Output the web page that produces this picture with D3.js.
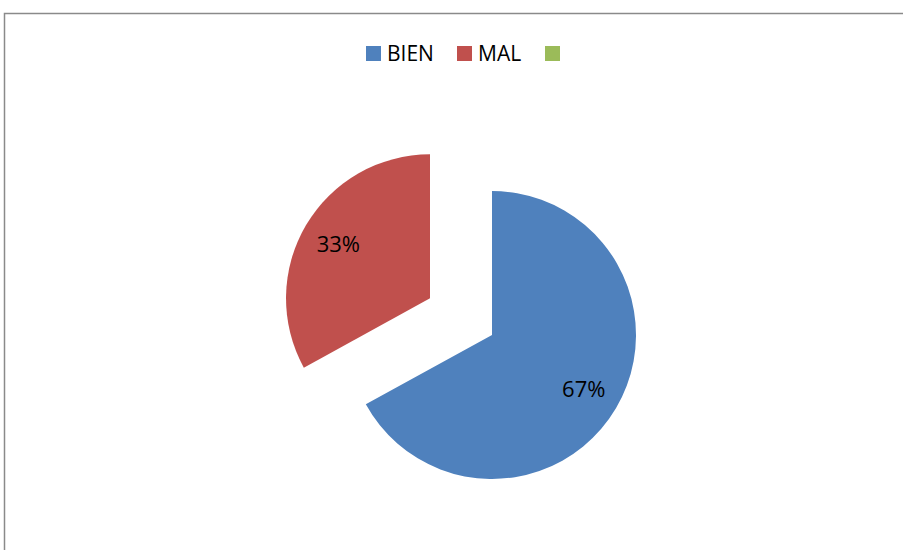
<!DOCTYPE html>
<head>
  <meta charset="utf-8">
  <style>
    body { margin: 0; background: #fff; }
    svg text { font-family: 'Open Sans', 'Liberation Sans', sans-serif; fill: #000; }
  </style>
  <script src="https://cdn.jsdelivr.net/npm/d3@7"></script>
</head>
<body>
<div id=chart></div>
<script>
// data
const categories = ['BIEN', 'MAL', '']
const values = [67, 33, 0]
const colors = ['#4f81bd', '#c0504d', '#9bbb59']
const exploded = [false, true, false]

const width = 903, height = 550
const svg = d3.select('#chart').append('svg')
  .attr('width', width).attr('height', height)
  .attr('viewBox', [0, 0, width, height])

// chart frame (extends past right/bottom edge)
svg.append('rect')
  .attr('x', 4.5).attr('y', 13.5)
  .attr('width', width + 10).attr('height', height + 10)
  .attr('fill', 'none').attr('stroke', '#8a8a8a').attr('stroke-width', 1.5)

// legend
const legend = svg.append('g').attr('transform', 'translate(366,46)')
const legend_x = [0, 91, 179]
legend.selectAll('g').data(categories).join('g')
  .attr('transform', (d, i) => `translate(${legend_x[i]},0)`)
  .call(g => g.append('rect').attr('width', 15).attr('height', 15).attr('fill', (d, i) => colors[i]))
  .call(g => g.append('text').attr('x', 21).attr('y', 15).attr('font-size', 21).text(d => d))

// pie
const cx = 492, cy = 335, r = 144, explode = 72
const pie = d3.pie().sort(null).value(d => d.value)
const arcs = pie(categories.map((c, i) => ({ name: c, value: values[i], color: colors[i], exploded: exploded[i] })))
const arc = d3.arc().innerRadius(0).outerRadius(r)
const label_arc = d3.arc().innerRadius(r * 0.74).outerRadius(r * 0.74)
const total = d3.sum(values)

const offset = d => {
  if (!d.data.exploded) return [0, 0]
  const a = (d.startAngle + d.endAngle) / 2
  return [Math.sin(a) * explode, -Math.cos(a) * explode]
}

const g = svg.append('g').attr('transform', `translate(${cx},${cy})`)
const slice = g.selectAll('g').data(arcs.filter(d => d.value > 0)).join('g')
  .attr('transform', d => `translate(${offset(d)})`)
slice.append('path').attr('d', arc).attr('fill', d => d.data.color)
slice.append('text')
  .attr('transform', d => `translate(${label_arc.centroid(d)})`)
  .attr('text-anchor', 'middle').attr('dy', '0.36em')
  .attr('font-size', 22)
  .text(d => Math.round(d.value / total * 100) + '%')
</script>
</body>
